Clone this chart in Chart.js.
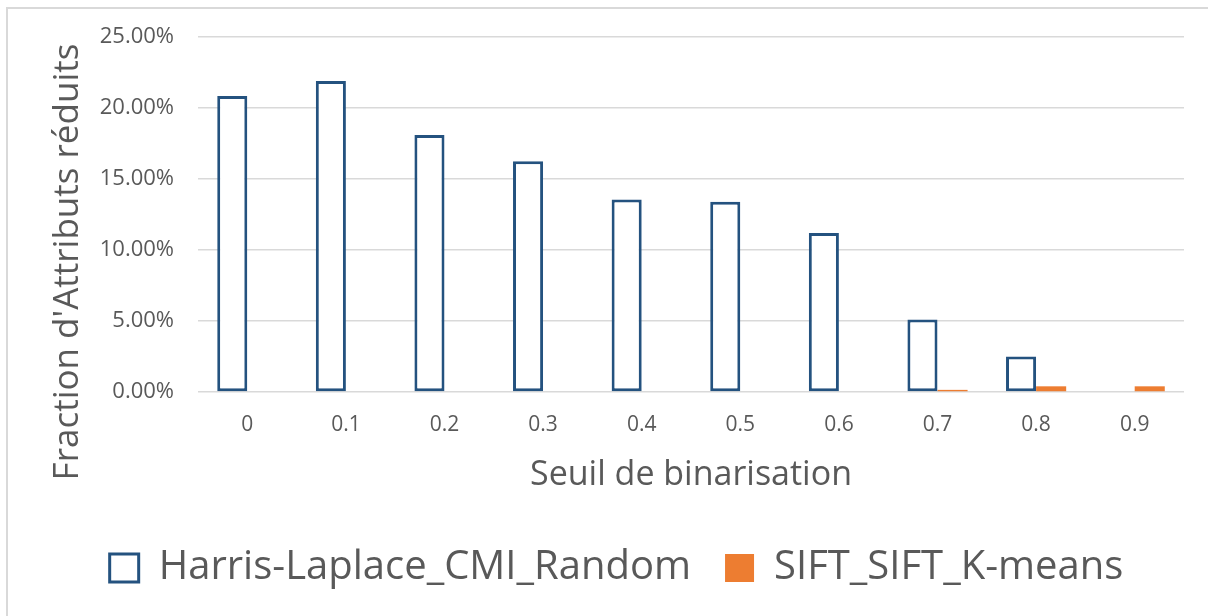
<!DOCTYPE html>
<html>
<head>
<meta charset="utf-8">
<script src="https://cdn.jsdelivr.net/npm/chart.js@4/dist/chart.umd.min.js"></script>
<style>
  body { margin: 0; background: #fff; }
  #frame {
    position: absolute; left: 6px; top: 7px;
    width: 1202px; height: 609px;
    border-left: 2px solid #d9d9d9; border-top: 2px solid #d9d9d9;
  }
</style>
</head>
<body>
<div id="frame"><canvas id="barChart" width="1200" height="607"></canvas></div>
<script>
// seuils de binarisation
var seuils = ['0', '0.1', '0.2', '0.3', '0.4', '0.5', '0.6', '0.7', '0.8', '0.9'];
// fraction d'attributs réduits, en %
var harrisLaplace = [20.85, 21.9, 18.1, 16.25, 13.55, 13.4, 11.2, 5.1, 2.5, 0];
var siftKmeans = [0, 0, 0, 0, 0, 0, 0, 0.15, 0.4, 0.4];
var yTicks = [0, 5, 10, 15, 20, 25];

var gris = '#595959';
var police = "'Open Sans', 'Noto Sans', sans-serif";

// titre de l'axe Y centré sur toute la hauteur (axe + étiquettes X), comme dans Excel
var titreAxeY = {
    id: 'titreAxeY',
    afterDraw: function (chart, args, opts) {
        var c = chart.ctx;
        c.save();
        c.translate(opts.x, opts.y);
        c.rotate(-Math.PI / 2);
        c.font = opts.size + 'px ' + police;
        c.fillStyle = gris;
        c.textAlign = 'center';
        c.textBaseline = 'middle';
        c.fillText(opts.text, 0, 0);
        c.restore();
    }
};

var ctx = document.getElementById('barChart').getContext('2d');
var myChart = new Chart(ctx, {
    type: 'bar',
    data: {
        labels: seuils,
        datasets: [{
            label: 'Harris-Laplace_CMI_Random',
            data: harrisLaplace,
            backgroundColor: '#ffffff',
            borderColor: '#24527f',
            borderWidth: 3,
            borderSkipped: false
        }, {
            label: 'SIFT_SIFT_K-means',
            data: siftKmeans,
            backgroundColor: '#ed7d31',
            borderColor: '#ed7d31',
            borderWidth: 0
        }]
    },
    plugins: [titreAxeY],
    options: {
        responsive: false,
        animation: false,
        datasets: {
            bar: { categoryPercentage: 0.61, barPercentage: 1 }
        },
        layout: {
            padding: { left: 41, right: 24, top: 28, bottom: 18 }
        },
        scales: {
            x: {
                grid: { display: false, drawTicks: false },
                border: { display: false },
                ticks: { color: gris, padding: 20, font: { family: police, size: 21 } },
                title: {
                    display: true,
                    text: 'Seuil de binarisation',
                    color: gris,
                    font: { family: police, size: 34 },
                    padding: { top: 0, bottom: 18 }
                },
                afterFit: function (scale) { scale.height = 122; }
            },
            y: {
                min: 0,
                max: 25,
                afterBuildTicks: function (scale) {
                    scale.ticks = yTicks.map(function (v) { return { value: v }; });
                },
                grid: { color: '#d9d9d9', lineWidth: 1.5, drawTicks: false },
                border: { display: false },
                ticks: {
                    color: gris,
                    padding: 24,
                    font: { family: police, size: 22 },
                    callback: function (v) { return v.toFixed(2) + '%'; }
                },
                afterFit: function (scale) {
                    scale.width = 149;
                    // pas de marge supplémentaire pour les étiquettes du haut/bas
                    scale.paddingTop = 0;
                    scale.paddingBottom = 0;
                }
            }
        },
        plugins: {
            titreAxeY: { text: "Fraction d'Attributs réduits", size: 35, x: 60, y: 253 },
            legend: {
                position: 'bottom',
                labels: {
                    color: gris,
                    boxWidth: 29,
                    boxHeight: 28,
                    padding: 34,
                    font: { family: police, size: 40 }
                }
            },
            tooltip: { enabled: false }
        }
    }
});
</script>
</body>
</html>
